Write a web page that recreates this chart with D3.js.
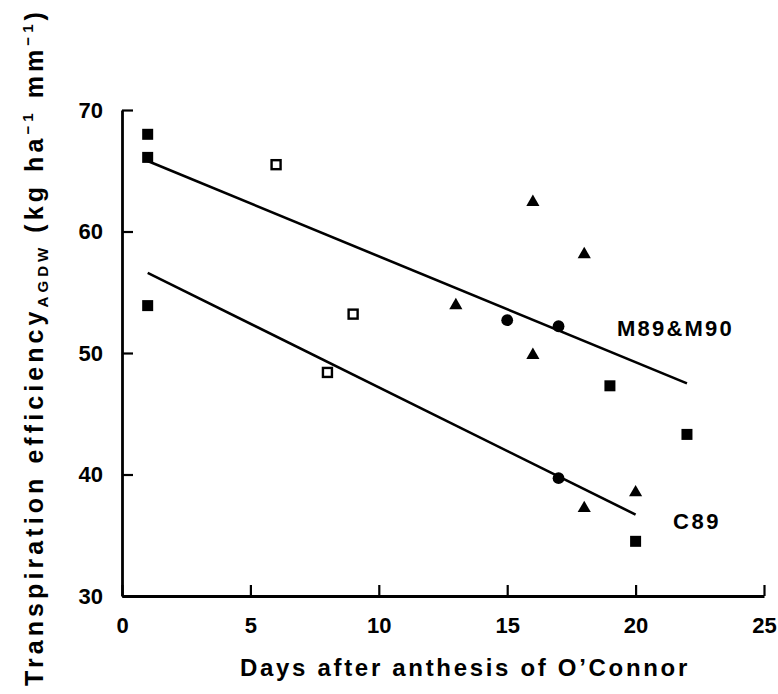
<!DOCTYPE html>
<html>
<head>
<meta charset="utf-8">
<script src="https://cdn.jsdelivr.net/npm/d3@7"></script>
<style>
body { margin: 0; background: #fff; }
svg text { font-family: "Liberation Sans", Arial, sans-serif; font-weight: bold; fill: #000; }
</style>
</head>
<body>
<svg id="chart" width="778" height="694"></svg>
<script>
// data
var filledSquares = [[1,68.0],[1,66.1],[1,53.9],[19,47.3],[22,43.3],[20,34.5]]
var openSquares = [[6,65.5],[9,53.2],[8,48.4]]
var triangles = [[16,62.5],[18,58.2],[13,54.0],[16,49.9],[20,38.6],[18,37.3]]
var circles = [[15,52.7],[17,52.2],[17,39.7]]
var lineM = [[1,65.8],[22,47.5]]
var lineC = [[1,56.6],[20,36.7]]
var xTicks = [0,5,10,15,20,25]
var yTicks = [30,40,50,60,70]

var svg = d3.select("#chart")
var x = d3.scaleLinear().domain([0,25]).range([122,764])
var y = d3.scaleLinear().domain([30,70]).range([596,110])

// axes, ticks pointing inward
var xAxis = d3.axisBottom(x).tickValues(xTicks).tickSize(-11).tickSizeOuter(0).tickPadding(21)
var yAxis = d3.axisLeft(y).tickValues(yTicks).tickSize(-11).tickSizeOuter(0).tickPadding(19)

var gx = svg.append("g").attr("transform","translate(0,596)").call(xAxis)
var gy = svg.append("g").attr("transform","translate(122,0)").call(yAxis)
svg.selectAll(".domain").attr("stroke","#000").attr("stroke-width",2.8)
svg.selectAll(".tick line").attr("stroke","#000").attr("stroke-width",2.2)
svg.selectAll(".tick text").style("font-size","22px").style("font-family","'Liberation Sans', Arial, sans-serif")
gx.selectAll(".tick text").attr("dy","0.71em")

// regression lines
var line = d3.line().x(d => x(d[0])).y(d => y(d[1]))
svg.append("path").datum(lineM).attr("d",line).attr("fill","none").attr("stroke","#000").attr("stroke-width",2.6)
svg.append("path").datum(lineC).attr("d",line).attr("fill","none").attr("stroke","#000").attr("stroke-width",2.6)

// markers
svg.selectAll(".fsq").data(filledSquares).enter().append("rect")
  .attr("x", d => x(d[0])-5.5).attr("y", d => y(d[1])-5.5)
  .attr("width",11).attr("height",11).attr("fill","#000")
svg.selectAll(".osq").data(openSquares).enter().append("rect")
  .attr("x", d => x(d[0])-4.5).attr("y", d => y(d[1])-4.5)
  .attr("width",9).attr("height",9).attr("fill","#fff").attr("stroke","#000").attr("stroke-width",2.4)
svg.selectAll(".tri").data(triangles).enter().append("path")
  .attr("transform", d => "translate(" + x(d[0]) + "," + (y(d[1])+1) + ")")
  .attr("d", d3.symbol().type(d3.symbolTriangle).size(75)).attr("fill","#000")
svg.selectAll(".cir").data(circles).enter().append("circle")
  .attr("cx", d => x(d[0])).attr("cy", d => y(d[1])).attr("r",5.9).attr("fill","#000")

// line labels
function fitText(sel, len) {
  var n = sel.text().length
  var w = sel.node().getComputedTextLength()
  sel.style("letter-spacing", ((len - w) / n) + "px")
}
var lm = svg.append("text").attr("x",617).attr("y",336).style("font-size","22px").text("M89&M90")
fitText(lm, 117)
var lc = svg.append("text").attr("x",673).attr("y",529).style("font-size","22px").text("C89")
fitText(lc, 48)

// x title
var xt = svg.append("text").attr("y",676).style("font-size","24px").text("Days after anthesis of O\u2019Connor")
fitText(xt, 450)
xt.attr("x", 465 - 225)

// y title with sub/superscripts
var yt = svg.append("text").attr("transform","translate(43,686) rotate(-90)").style("font-size","25px")
yt.append("tspan").text("Transpiration efficiency")
yt.append("tspan").attr("dy",5).style("font-size","15px").text("AGDW")
yt.append("tspan").attr("dy",-5).text(" (kg ha")
yt.append("tspan").attr("dy",-10).style("font-size","15px").text("\u22121")
yt.append("tspan").attr("dy",10).text(" mm")
yt.append("tspan").attr("dy",-10).style("font-size","15px").text("\u22121")
yt.append("tspan").attr("dy",10).text(")")
var ytLen = yt.node().getComputedTextLength()
var ytChars = yt.text().length
yt.style("letter-spacing", ((678 - ytLen) / ytChars) + "px")
</script>
</body>
</html>
